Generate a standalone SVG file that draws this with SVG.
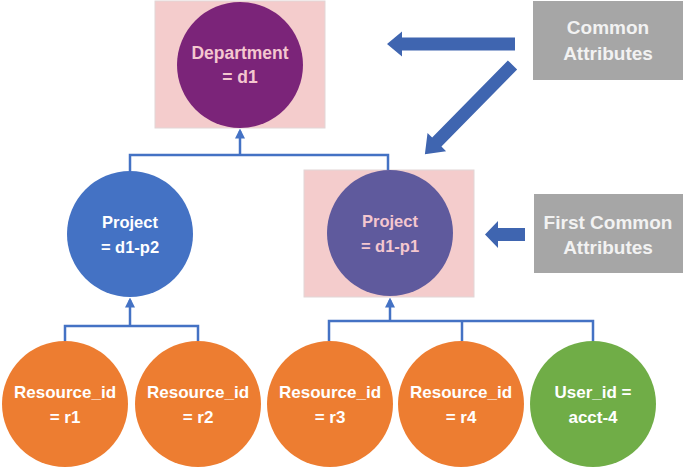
<svg xmlns="http://www.w3.org/2000/svg" width="685" height="468" viewBox="0 0 685 468">
<style>
text{font-family:"Liberation Sans",Arial,sans-serif;font-weight:bold;font-size:16.5px;text-anchor:middle;dominant-baseline:central}
.w{fill:#ffffff}
.pk{fill:#f4c7cf}
.g{fill:#f2f2f2;font-size:19px}
.big{font-size:17.5px}
.res{font-size:17px}
.hl{fill:#f4cccc;stroke:#e2d6d6;stroke-width:1}
.box{fill:#a6a6a6}
.conn{fill:none;stroke:#4472c4;stroke-width:2.5}
.blk{fill:#3f65b0}
</style>
<defs>
<marker id="ah" markerWidth="4" markerHeight="4" refX="3" refY="2" orient="auto" markerUnits="strokeWidth" viewBox="0 0 4 4">
<path d="M0,0 L4,2 L0,4 Z" fill="#4472c4"/>
</marker>
</defs>
<rect class="hl" x="155" y="1" width="170" height="127"/>
<rect class="hl" x="304" y="170" width="170" height="127"/>
<g id="connectors">
<path class="conn" d="M130,171 V155 H388 V170"/>
<path class="conn" d="M240,155 V131" marker-end="url(#ah)"/>
<path class="conn" d="M65,341 V326 H198 V341"/>
<path class="conn" d="M130,326 V300" marker-end="url(#ah)"/>
<path class="conn" d="M329,341 V321 H593 V341"/>
<path class="conn" d="M462,321 V341"/>
<path class="conn" d="M390,321 V300" marker-end="url(#ah)"/>
</g>
<g id="arrows">
<polygon class="blk" points="515,37.5 402,37.5 402,31.5 387,44 402,56.5 402,50.5 515,50.5"/>
<polygon class="blk" transform="translate(512.5,65) rotate(134.5)" points="0,-6.5 108,-6.5 108,-13 125,0 108,13 108,6.5 0,6.5"/>
<polygon class="blk" points="525,228 498,228 498,221 485,234.5 498,248 498,241 525,241"/>
</g>
<g id="dept">
<circle cx="240" cy="65" r="63" fill="#7b2479"/>
<text class="pk big" x="240" y="53">Department</text>
<text class="pk big" x="240" y="77">= d1</text>
</g>
<g id="proj2">
<circle cx="130" cy="234" r="63" fill="#4472c4"/>
<text class="w" x="130" y="222">Project</text>
<text class="w" x="130" y="247">= d1-p2</text>
</g>
<g id="proj1">
<circle cx="390" cy="233" r="63" fill="#5f5a9d"/>
<text class="pk" x="390" y="221">Project</text>
<text class="pk" x="390" y="246">= d1-p1</text>
</g>
<g id="r1">
<circle cx="65" cy="404" r="63" fill="#ed7d31"/>
<text class="w res" x="65" y="392">Resource_id</text>
<text class="w res" x="65" y="417">= r1</text>
</g>
<g id="r2">
<circle cx="198" cy="404" r="63" fill="#ed7d31"/>
<text class="w res" x="198" y="392">Resource_id</text>
<text class="w res" x="198" y="417">= r2</text>
</g>
<g id="r3">
<circle cx="330" cy="404" r="63" fill="#ed7d31"/>
<text class="w res" x="330" y="392">Resource_id</text>
<text class="w res" x="330" y="417">= r3</text>
</g>
<g id="r4">
<circle cx="461" cy="404" r="63" fill="#ed7d31"/>
<text class="w res" x="461" y="392">Resource_id</text>
<text class="w res" x="461" y="417">= r4</text>
</g>
<g id="user">
<circle cx="593" cy="404" r="63" fill="#70ad47"/>
<text class="w res" x="593" y="392">User_id =</text>
<text class="w res" x="593" y="417">acct-4</text>
</g>
<g id="common">
<rect class="box" x="533" y="1" width="150" height="79"/>
<text class="g" x="608" y="27">Common</text>
<text class="g" x="608" y="53">Attributes</text>
</g>
<g id="firstcommon">
<rect class="box" x="534" y="194" width="149" height="79"/>
<text class="g" x="608" y="222">First Common</text>
<text class="g" x="608" y="247">Attributes</text>
</g>
</svg>
